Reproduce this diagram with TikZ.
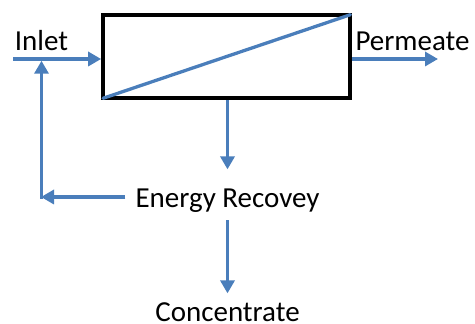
\documentclass[tikz,border=0pt]{standalone}
\usepackage{fontspec}
\setmainfont{Carlito}
\usetikzlibrary{arrows.meta}
\definecolor{flow}{RGB}{74,126,187}
\begin{document}
\begin{tikzpicture}[x=1pt,y=1pt,
  lbl/.style={font=\fontsize{29}{31}\selectfont, inner sep=0pt, anchor=base},
  arr/.style={draw=flow, line width=3.5pt, -{Triangle[length=13pt,width=14pt]}},
  flowline/.style={draw=flow, line width=3.3pt}]
\useasboundingbox (0,0) rectangle (475,324);
\node[draw=black, line width=3.8pt, minimum width=247.3pt, minimum height=83.6pt,
      inner sep=0pt, outer sep=0pt] (mem) at (226.7,267.5) {};
\draw[flowline, line cap=round] (mem.south west) -- (mem.north east);
\node[lbl] (inlet) at (41.5,273) {Inlet};
\node[lbl] (perm) at (412.5,273) {Permeate};
\node[lbl] (energy) at (227.5,116.5) {Energy Recovey};
\node[lbl] (conc) at (227.5,2.8) {Concentrate};
\coordinate (in0) at (13,265);
\coordinate (pout) at (438,265);
\coordinate (rec) at (41.5,127);
% inlet
\draw[arr, shorten >=1.9pt] (in0) -- (in0 -| mem.west);
% permeate
\draw[arr, shorten <=1.9pt] (in0 -| mem.east) -- (pout);
% down to energy recovery
\draw[arr, shorten <=1.9pt, shorten >=19.3pt] (energy.north |- mem.south) -- (energy.north);
% energy recovery to concentrate
\draw[arr, shorten <=7.8pt, shorten >=8.8pt] (energy.south) -- (conc.north);
% recycle
\draw[arr, shorten <=10pt, shorten >=-0.5pt] (energy.west |- rec) -- (rec);
\draw[arr, shorten <=-1.75pt, shorten >=1.75pt] (rec) -- (rec |- in0);
\end{tikzpicture}
\end{document}
